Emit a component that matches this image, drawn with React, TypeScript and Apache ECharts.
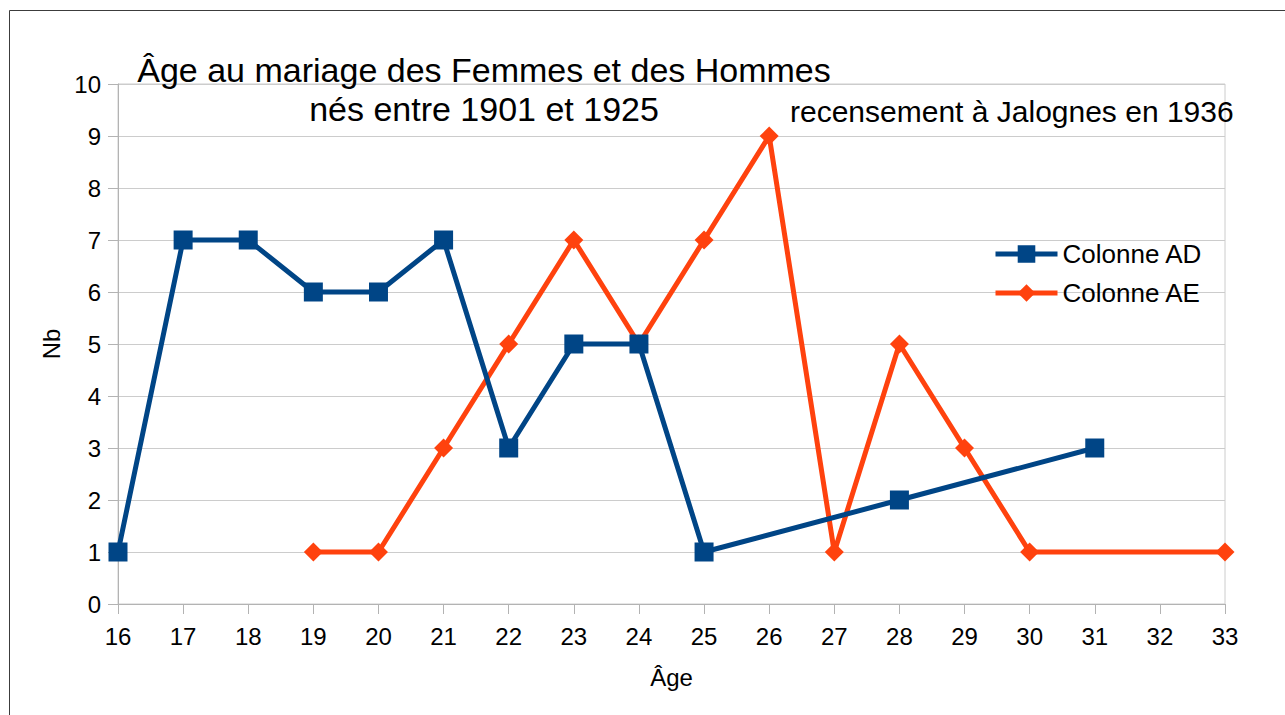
import React, { useEffect, useRef } from "react";
import * as echarts from "echarts";

const titleLines = ["Âge au mariage des Femmes et des Hommes", "nés entre 1901 et 1925"];
const subtitle = "recensement à Jalognes en 1936";
const xName = "Âge";
const yName = "Nb";

const adName = "Colonne AD";
const adAges = [16, 17, 18, 19, 20, 21, 22, 23, 24, 25, 28, 31];
const adValues = [1, 7, 7, 6, 6, 7, 3, 5, 5, 1, 2, 3];

const aeName = "Colonne AE";
const aeAges = [19, 20, 21, 22, 23, 24, 25, 26, 27, 28, 29, 30, 33];
const aeValues = [1, 1, 3, 5, 7, 5, 7, 9, 1, 5, 3, 1, 1];

const FONT = "'Liberation Sans', Arial, sans-serif";

export default function App() {
  const ref = useRef<HTMLDivElement>(null);
  useEffect(() => {
    if (!ref.current) return;
    const chart = echarts.init(ref.current, null, { renderer: "svg" });
    const adData = adAges.map((a, i) => [a, adValues[i]]);
    const aeData = aeAges.map((a, i) => [a, aeValues[i]]);
    chart.setOption({
      animation: false,
      backgroundColor: "#ffffff",
      textStyle: { fontFamily: FONT, color: "#000" },
      title: [
        {
          text: titleLines.join("\n"),
          left: 484,
          top: 50,
          padding: 0,
          textAlign: "center",
          textStyle: { fontFamily: FONT, fontSize: 34, fontWeight: "normal", color: "#000", lineHeight: 39 },
        },
        {
          text: subtitle,
          left: 790,
          top: 94,
          padding: 0,
          textStyle: { fontFamily: FONT, fontSize: 30, fontWeight: "normal", color: "#000", lineHeight: 34 },
        },
      ],
      graphic: [
        {
          type: "rect",
          shape: { x: 9.5, y: 10.5, width: 1400, height: 800 },
          style: { fill: "none", stroke: "#3c3c3c", lineWidth: 1 },
          silent: true,
        },
      ],
      legend: {
        orient: "vertical",
        left: 988,
        top: 236,
        itemWidth: 62,
        itemHeight: 22,
        itemGap: 13,
        itemTextGap: 5,
        lineStyle: { width: 5 },
        textStyle: { fontFamily: FONT, fontSize: 26, color: "#000" },
        data: [adName, aeName],
      },
      grid: {
        left: 118,
        right: 60,
        top: 84,
        bottom: 111,
        show: true,
        borderColor: "#cccccc",
        borderWidth: 1,
      },
      xAxis: {
        type: "value",
        min: 16,
        max: 33,
        interval: 1,
        name: xName,
        nameLocation: "middle",
        nameGap: 61,
        nameTextStyle: { fontFamily: FONT, fontSize: 24, color: "#000" },
        axisLine: { show: true, lineStyle: { color: "#b3b3b3", width: 1 } },
        axisTick: { show: true, length: 10, lineStyle: { color: "#b3b3b3" } },
        axisLabel: { fontFamily: FONT, fontSize: 24, color: "#000", margin: 20 },
        splitLine: { show: false },
      },
      yAxis: {
        type: "value",
        min: 0,
        max: 10,
        interval: 1,
        name: yName,
        nameLocation: "middle",
        nameGap: 40,
        nameTextStyle: { fontFamily: FONT, fontSize: 24, color: "#000" },
        axisLine: { show: true, lineStyle: { color: "#b3b3b3", width: 1 } },
        axisTick: { show: true, length: 10, lineStyle: { color: "#b3b3b3" } },
        axisLabel: { fontFamily: FONT, fontSize: 24, color: "#000", margin: 17 },
        splitLine: { show: true, lineStyle: { color: "#cccccc", width: 1 } },
      },
      series: [
        {
          name: adName,
          type: "line",
          data: adData,
          color: "#004586",
          symbol: "rect",
          symbolSize: 19,
          lineStyle: { width: 5, color: "#004586" },
          itemStyle: { color: "#004586" },
          z: 3,
        },
        {
          name: aeName,
          type: "line",
          data: aeData,
          color: "#ff420e",
          symbol: "diamond",
          symbolSize: 19,
          lineStyle: { width: 5, color: "#ff420e" },
          itemStyle: { color: "#ff420e" },
          z: 2,
        },
      ],
    });
    return () => chart.dispose();
  }, []);
  return (
    <div
      ref={ref}
      style={{ position: "fixed", left: 0, top: 0, width: 1285, height: 715 }}
    />
  );
}
